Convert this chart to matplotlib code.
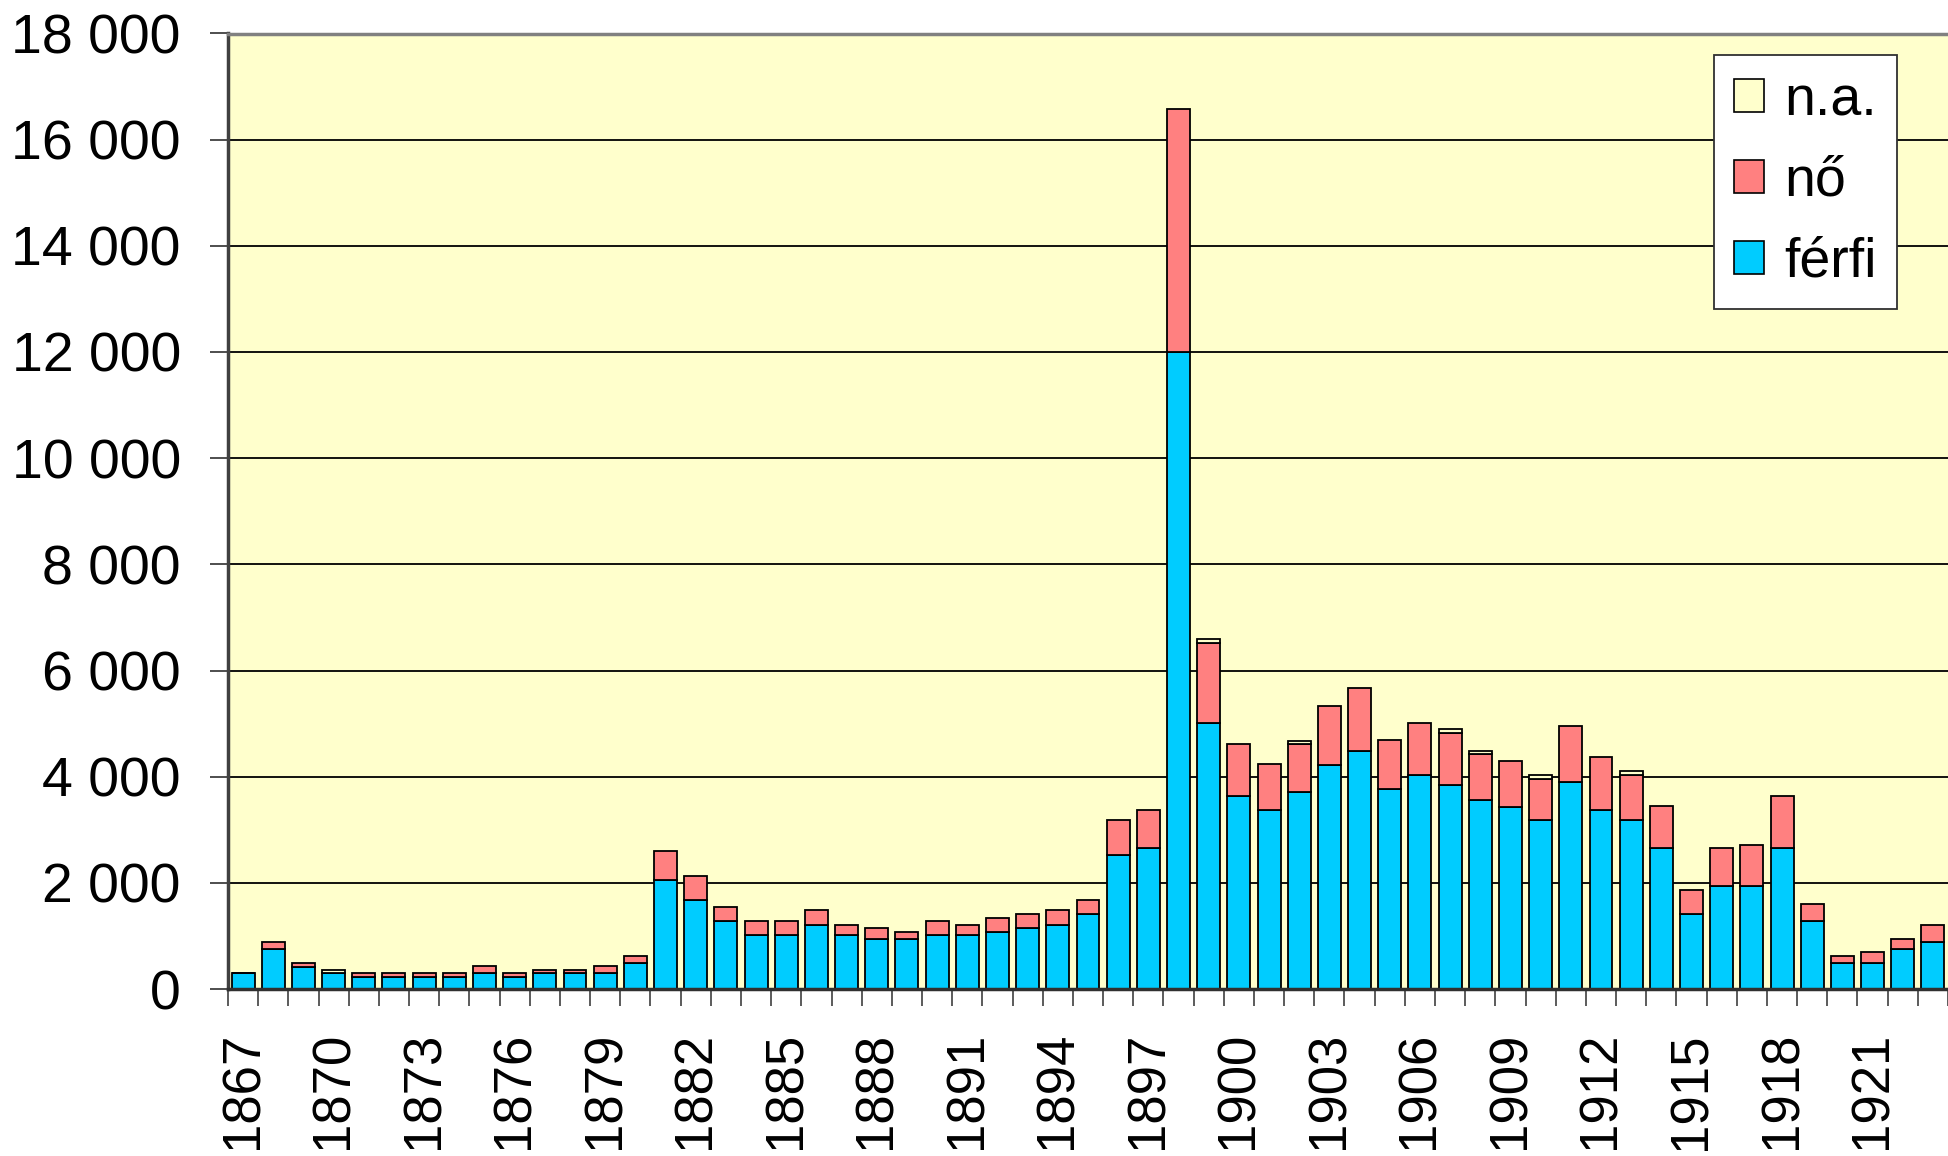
import matplotlib
matplotlib.use("Agg")
import matplotlib.pyplot as plt
import numpy as np
from matplotlib.patches import Patch

plt.rcParams['font.family'] = ['Liberation Sans', 'DejaVu Sans']

years = list(range(1867, 1924))
ferfi = [300, 750, 420, 295, 230, 230, 230, 230, 295, 230,
         295, 295, 295, 490, 2060, 1670, 1280, 1010, 1010, 1210,
         1010, 945, 945, 1010, 1010, 1080, 1145, 1210, 1410, 2525,
         2660, 12000, 5010, 3635, 3375, 3705, 4225, 4485, 3770, 4030,
         3835, 3565, 3435, 3185, 3900, 3375, 3185, 2660, 1415, 1935,
         1935, 2660, 1280, 490, 490, 750, 890]
no = [0, 140, 75, 0, 70, 70, 70, 70, 135, 70,
      70, 70, 135, 135, 535, 465, 265, 270, 270, 270,
      200, 200, 130, 270, 200, 265, 265, 270, 265, 660,
      715, 4580, 1510, 985, 860, 915, 1115, 1185, 915, 985,
      985, 860, 860, 780, 1055, 990, 845, 785, 450, 720,
      785, 975, 325, 140, 200, 195, 325]
na = [0, 0, 0, 65, 0, 0, 0, 0, 0, 0,
      0, 0, 0, 0, 0, 0, 0, 0, 0, 0,
      0, 0, 0, 0, 0, 0, 0, 0, 0, 0,
      0, 0, 70, 0, 0, 60, 0, 0, 0, 0,
      70, 65, 0, 60, 0, 0, 70, 0, 0, 0,
      0, 0, 0, 0, 0, 0, 0]
series_labels = ['férfi', 'nő', 'n.a.']
series_colors = ['#00CCFF', '#FF8080', '#FFFFCC']
yticks = list(range(0, 18001, 2000))

W, H = 1948, 1156
fig = plt.figure(figsize=(W / 100, H / 100), dpi=100)
left, right, bottom_px, top_px = 228, W, 989, 33.5
ax = fig.add_axes([left / W, 1 - bottom_px / H, (right - left) / W, (bottom_px - top_px) / H])
ax.set_facecolor('#FFFFCC')

x = np.arange(len(years))
f = np.array(ferfi, dtype=float)
n = np.array(no, dtype=float)
a = np.array(na, dtype=float)
bw = 0.76
ax.bar(x, f, width=bw, color=series_colors[0], edgecolor='black', linewidth=1.3, zorder=3)
ax.bar(x, n, width=bw, bottom=f, color=series_colors[1], edgecolor='black', linewidth=1.3, zorder=3)
mask = a > 0
ax.bar(x[mask], a[mask], width=bw, bottom=(f + n)[mask], color=series_colors[2],
       edgecolor='black', linewidth=1.3, zorder=3)

ax.set_ylim(0, 18000)
ax.set_xlim(-0.5, -0.5 + (right - left) / 30.3)

ax.set_yticks(yticks)
ax.set_yticklabels([f"{v:,}".replace(",", " ") for v in yticks], fontsize=40)
ax.yaxis.grid(True, color='black', linewidth=1.3, zorder=1)
ax.set_axisbelow(True)
ax.tick_params(axis='y', length=13, width=1.3, pad=21, color='#404040')

major = [i for i in x if (years[i] - 1867) % 3 == 0]
ax.set_xticks(major)
ax.set_xticklabels([str(years[i]) for i in major], rotation=90, fontsize=38)
ax.set_xticks(np.arange(-0.5, len(years) + 0.5, 1), minor=True)
ax.tick_params(axis='x', which='major', length=0, pad=31)
ax.tick_params(axis='x', which='minor', length=12.5, width=1.2, color='#404040')

ax.spines['right'].set_visible(False)
ax.spines['left'].set_color('#404040')
ax.spines['left'].set_linewidth(2.5)
ax.spines['bottom'].set_color('#303030')
ax.spines['bottom'].set_linewidth(2.5)
ax.spines['top'].set_color('#808080')
ax.spines['top'].set_linewidth(2.5)
for sp in ax.spines.values():
    sp.set_zorder(4)

handles = [Patch(facecolor=series_colors[i], edgecolor='black', linewidth=1.2) for i in (2, 1, 0)]
labels = [series_labels[i] for i in (2, 1, 0)]
leg = fig.legend(handles, labels, loc='upper right', bbox_to_anchor=(1897 / W, 1 - 55 / H),
                 fontsize=40, frameon=True, fancybox=False, handlelength=0.54, handleheight=0.54,
                 handletextpad=0.36, labelspacing=0.52, borderpad=0.36, borderaxespad=0)
leg.get_frame().set_edgecolor('#303030')
leg.get_frame().set_linewidth(1.3)
leg.get_frame().set_facecolor('white')
leg.get_frame().set_alpha(1)

fig.savefig('out.png', dpi=100, facecolor='white')
